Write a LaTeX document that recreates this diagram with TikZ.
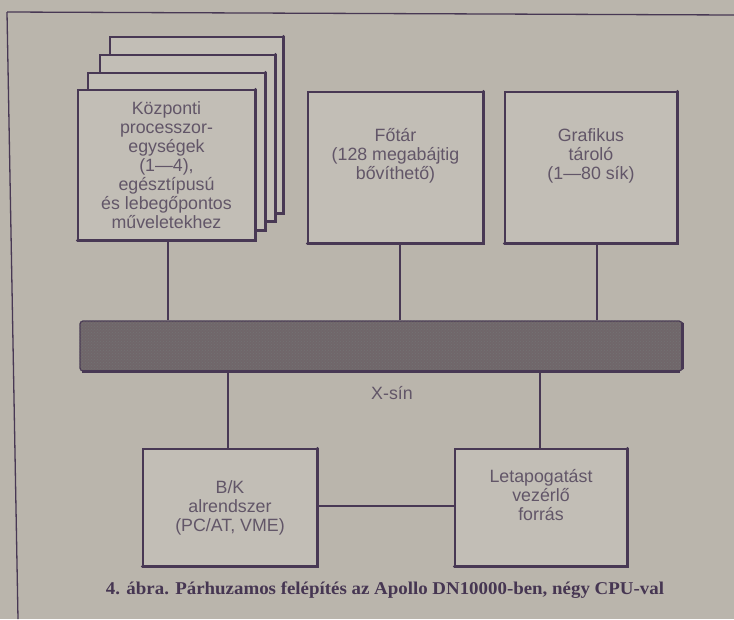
\documentclass[tikz,border=0pt]{standalone}
\usepackage{fontspec}
\setmainfont{Liberation Serif}
\setsansfont{Liberation Sans}
\usetikzlibrary{patterns}
\definecolor{bgc}{RGB}{186,181,172}
\definecolor{boxc}{RGB}{194,190,182}
\definecolor{linec}{RGB}{72,56,84}
\definecolor{txtc}{RGB}{98,86,104}
\definecolor{busc}{RGB}{112,102,106}
\definecolor{capc}{RGB}{70,54,82}
\tikzset{
  blk/.style={draw=linec, line width=1.4pt, fill=boxc, inner sep=0pt,
    text=txtc, align=center, font=\sffamily\fontsize{17.8}{19}\selectfont},
  shade/.style={draw=linec, line width=3pt, line cap=round},
  conn/.style={draw=linec, line width=1.1pt},
}
\begin{document}
\begin{tikzpicture}[x=1pt,y=-1pt]
\fill[bgc] (0,0) rectangle (734,619);
\useasboundingbox (0,0) rectangle (734,619);
% frame
\draw[linec, line width=1.3pt] (7,12) -- (734,15);
\draw[linec, line width=1.3pt] (7,12) -- (18,619);
% CPU stack (back to front)
\node[blk, minimum width=173pt, minimum height=176pt] (cpu4) at (196.5,125) {};
\draw[shade] (cpu4.north east) -- (cpu4.south east) -- (cpu4.south west);
\node[blk, minimum width=175pt, minimum height=166pt] (cpu3) at (187.5,138) {};
\draw[shade] (cpu3.north east) -- (cpu3.south east) -- (cpu3.south west);
\node[blk, minimum width=177pt, minimum height=157pt] (cpu2) at (176.5,151.5) {};
\draw[shade] (cpu2.north east) -- (cpu2.south east) -- (cpu2.south west);
\node[blk, minimum width=177pt, minimum height=150pt] (cpu1) at (166.5,165) {Központi\\processzor-\\egységek\\(1—4),\\egésztípusú\\és lebegőpontos\\műveletekhez};
\draw[shade] (cpu1.north east) -- (cpu1.south east) -- (cpu1.south west);
% memory
\node[blk, minimum width=175pt, minimum height=151pt] (fotar) at (395.5,167.5) {Főtár\\(128 megabájtig\\bővíthető)\\[8pt]};
\draw[shade] (fotar.north east) -- (fotar.south east) -- (fotar.south west);
\node[blk, minimum width=172pt, minimum height=151pt] (graf) at (591,167.5) {Grafikus\\tároló\\(1—80 sík)\\[8pt]};
\draw[shade] (graf.north east) -- (graf.south east) -- (graf.south west);
% bus
\node[draw=linec, line width=1.2pt, fill=busc, rounded corners=3pt, minimum width=602pt, minimum height=50pt, inner sep=0pt] (bus) at (381,346) {};
\fill[pattern=crosshatch dots, pattern color=black!55, rounded corners=3pt] (bus.north west) rectangle (bus.south east);
\draw[shade, line width=2.5pt] ([yshift=-3pt]bus.north east) -- ([yshift=3pt]bus.south east);
\draw[linec, line width=2.5pt] ([xshift=3pt]bus.south west) -- ([xshift=-3pt]bus.south east);
\node[text=txtc, font=\sffamily\fontsize{17.8}{19}\selectfont] (xsin) at (392,393) {X-sín};
% lower boxes
\node[blk, minimum width=174pt, minimum height=117pt] (bk) at (230,507.5) {B/K\\alrendszer\\(PC/AT, VME)};
\draw[shade] (bk.north east) -- (bk.south east) -- (bk.south west);
\node[blk, minimum width=172pt, minimum height=117pt] (scan) at (541,507.5) {Letapogatást\\vezérlő\\forrás\\[6pt]};
\draw[shade] (scan.north east) -- (scan.south east) -- (scan.south west);
% connectors
\draw[conn] ([xshift=1.5pt]cpu1.south) -- ([xshift=1.5pt]cpu1.south |- bus.north);
\draw[conn] ([xshift=4.5pt]fotar.south) -- ([xshift=4.5pt]fotar.south |- bus.north);
\draw[conn] ([xshift=6pt]graf.south) -- ([xshift=6pt]graf.south |- bus.north);
\draw[conn] ([xshift=-2pt]bk.north) -- ([xshift=-2pt]bk.north |- bus.south);
\draw[conn] ([xshift=-1pt]scan.north) -- ([xshift=-1pt]scan.north |- bus.south);
\draw[conn] ([yshift=1.5pt]bk.east) -- ([yshift=1.5pt]scan.west);
% caption
\node[text=capc, font=\bfseries\fontsize{18}{20}\selectfont, xscale=1.05] (cap) at (385,590) {4. ábra. Párhuzamos felépítés az Apollo DN10000-ben, négy CPU-val};
\end{tikzpicture}
\end{document}
